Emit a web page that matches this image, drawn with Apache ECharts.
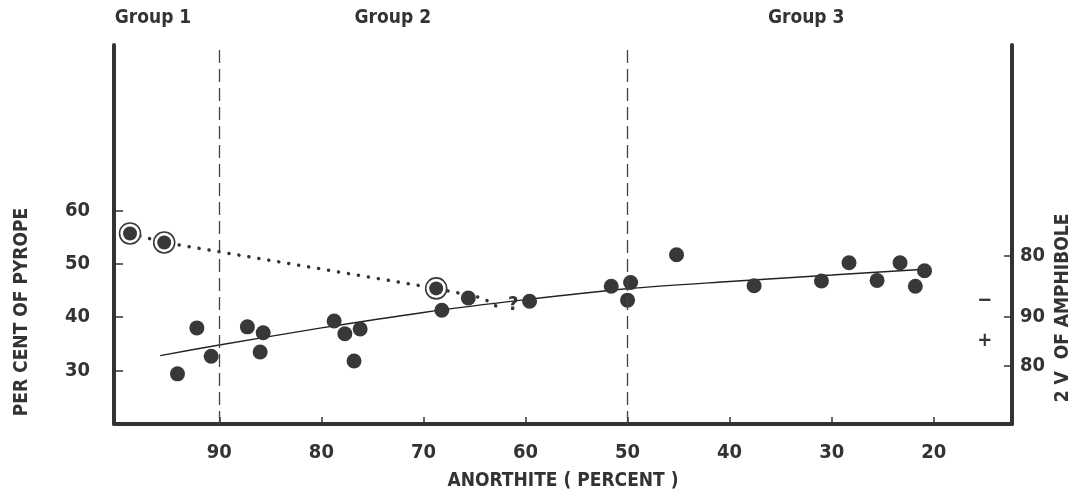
<!DOCTYPE html>
<html>
<head>
<meta charset="utf-8">
<script src="https://cdn.jsdelivr.net/npm/echarts@6.0.0/dist/echarts.min.js"></script>
<style>
html, body { margin: 0; padding: 0; background: #fff; }
#main { width: 1076px; height: 497px; }
</style>
</head>
<body>
<div id="main"></div>
<script>
// ticks and labels
var xTicks = [90, 80, 70, 60, 50, 40, 30, 20];
var yTicks = [30, 40, 50, 60];
var rightTickPos = [51.5, 40, 30.9];
var rightTickLabels = ['80', '90', '80'];
var groupPos = [96.5, 73, 32.5];
var groupLabels = ['Group 1', 'Group 2', 'Group 3'];
var groupBounds = [90, 50];

// garnet / plagioclase points
var filledX = [94.1, 92.2, 90.8, 87.25, 86.0, 85.7, 78.75, 77.7, 76.8, 76.2, 68.2, 65.6, 59.6, 51.6, 50.0, 49.7, 45.2, 37.6, 31.0, 28.3, 25.55, 23.3, 21.8, 20.9];
var filledY = [29.4, 38.0, 32.7, 38.2, 33.5, 37.1, 39.3, 36.9, 31.8, 37.8, 41.3, 43.6, 43.0, 45.8, 43.2, 46.5, 51.7, 45.9, 46.8, 50.2, 46.9, 50.2, 45.8, 48.7];
var circledX = [98.75, 95.4, 68.75];
var circledY = [55.7, 54.0, 45.4];
var dottedX = [98.75, 95.4, 68.75, 64.2, 62.7];
var dottedY = [55.7, 54.0, 45.4, 43.6, 41.9];
var curveX = [95.8, 90, 80, 70, 60, 50, 40, 30, 20.9];
var curveY = [32.8, 34.8, 38.0, 40.9, 43.3, 45.35, 46.7, 47.9, 49.0];
var questionX = [61.2];
var questionY = [42.3];
var signX = [15, 15];
var signY = [43.1, 35.6];
var signText = ['\u2212', '+'];

var ink = '#333';
var fontFam = 'DejaVu Sans Condensed, DejaVu Sans, sans-serif';

function pairs(xs, ys) {
    var out = [];
    for (var i = 0; i < xs.length; i++) {
        out.push([xs[i], ys[i]]);
    }
    return out;
}

var chart = echarts.init(document.getElementById('main'));

var option = {
    animation: false,
    backgroundColor: '#fff',
    grid: { left: 114, right: 64, top: 45, bottom: 73 },
    xAxis: [{
        type: 'value',
        inverse: true,
        min: 12.33,
        max: 100.32,
        name: 'ANORTHITE ( PERCENT )',
        nameLocation: 'middle',
        nameGap: 48,
        nameTextStyle: { color: ink, fontFamily: fontFam, fontWeight: 'bold', fontSize: 19 },
        axisLine: { onZero: false, lineStyle: { color: ink, width: 4 } },
        axisTick: { inside: true, length: 7, customValues: xTicks, lineStyle: { color: ink, width: 1.5 } },
        axisLabel: { customValues: xTicks, margin: 19, color: ink, fontFamily: fontFam, fontWeight: 'bold', fontSize: 20 },
        splitLine: { show: false }
    }, {
        type: 'value',
        position: 'top',
        inverse: true,
        min: 12.33,
        max: 100.32,
        axisLine: { show: false },
        axisTick: { show: false },
        axisLabel: {
            customValues: groupPos,
            margin: 17,
            color: ink,
            fontFamily: fontFam,
            fontWeight: 'bold',
            fontSize: 19,
            formatter: function (v) {
                var i = groupPos.indexOf(v);
                return i >= 0 ? groupLabels[i] : '';
            }
        },
        splitLine: { show: false }
    }],
    yAxis: [{
        type: 'value',
        min: 20,
        max: 91,
        axisLine: { onZero: false, lineStyle: { color: ink, width: 4 } },
        axisTick: { inside: true, length: 9, customValues: yTicks, lineStyle: { color: ink, width: 1.5 } },
        axisLabel: { customValues: yTicks, margin: 24, color: ink, fontFamily: fontFam, fontWeight: 'bold', fontSize: 20 },
        splitLine: { show: false }
    }, {
        type: 'value',
        position: 'right',
        min: 20,
        max: 91,
        axisLine: { onZero: false, lineStyle: { color: ink, width: 4 } },
        axisTick: { inside: true, length: 8, customValues: rightTickPos, lineStyle: { color: ink, width: 1.5 } },
        axisLabel: {
            customValues: rightTickPos,
            margin: 8,
            color: ink,
            fontFamily: fontFam,
            fontWeight: 'bold',
            fontSize: 20,
            formatter: function (v) {
                var i = rightTickPos.indexOf(v);
                return i >= 0 ? rightTickLabels[i] : '';
            }
        },
        splitLine: { show: false }
    }],
    graphic: [{
        type: 'text',
        x: 22,
        y: 312,
        rotation: Math.PI / 2,
        style: {
            text: 'PER CENT OF PYROPE',
            fill: ink,
            font: 'bold 19px ' + fontFam,
            textAlign: 'center',
            textVerticalAlign: 'middle'
        }
    }, {
        type: 'text',
        x: 1063,
        y: 308,
        rotation: Math.PI / 2,
        style: {
            text: '2 V  OF AMPHIBOLE',
            fill: ink,
            font: 'bold 19px ' + fontFam,
            textAlign: 'center',
            textVerticalAlign: 'middle'
        }
    }],
    series: [{
        type: 'line',
        name: 'trend',
        data: pairs(curveX, curveY),
        smooth: 0.3,
        showSymbol: false,
        lineStyle: { color: '#222', width: 1.4 },
        markLine: {
            silent: true,
            symbol: 'none',
            label: { show: false },
            lineStyle: { color: '#444', width: 1.3, type: [13, 6] },
            data: groupBounds.map(function (v) { return { xAxis: v }; })
        },
        z: 3
    }, {
        type: 'line',
        name: 'dotted',
        data: pairs(dottedX, dottedY),
        showSymbol: false,
        lineStyle: { color: '#333', width: 3.5, type: [0.1, 10], cap: 'round' },
        z: 3
    }, {
        type: 'scatter',
        name: 'points',
        data: pairs(filledX, filledY),
        symbolSize: 15,
        itemStyle: { color: '#383838', opacity: 1 },
        z: 4
    }, {
        type: 'scatter',
        name: 'ring',
        data: pairs(circledX, circledY),
        symbolSize: 21,
        itemStyle: { color: '#fff', borderColor: '#3a3a3a', borderWidth: 1.6, opacity: 1 },
        z: 4
    }, {
        type: 'scatter',
        name: 'ringCore',
        data: pairs(circledX, circledY),
        symbolSize: 14,
        itemStyle: { color: '#383838', opacity: 1 },
        z: 5
    }, {
        type: 'scatter',
        name: 'question',
        data: pairs(questionX, questionY),
        symbolSize: 1,
        itemStyle: { color: 'rgba(0,0,0,0)', opacity: 1 },
        label: { show: true, position: 'inside', formatter: '?', color: ink, fontFamily: fontFam, fontWeight: 'bold', fontSize: 20 },
        z: 5
    }, {
        type: 'scatter',
        name: 'signs',
        data: pairs(signX, signY),
        symbolSize: 1,
        itemStyle: { color: 'rgba(0,0,0,0)', opacity: 1 },
        label: {
            show: true,
            position: 'inside',
            formatter: function (p) { return signText[p.dataIndex]; },
            color: ink,
            fontFamily: fontFam,
            fontWeight: 'bold',
            fontSize: 20
        },
        z: 5
    }]
};

chart.setOption(option);
</script>
</body>
</html>
